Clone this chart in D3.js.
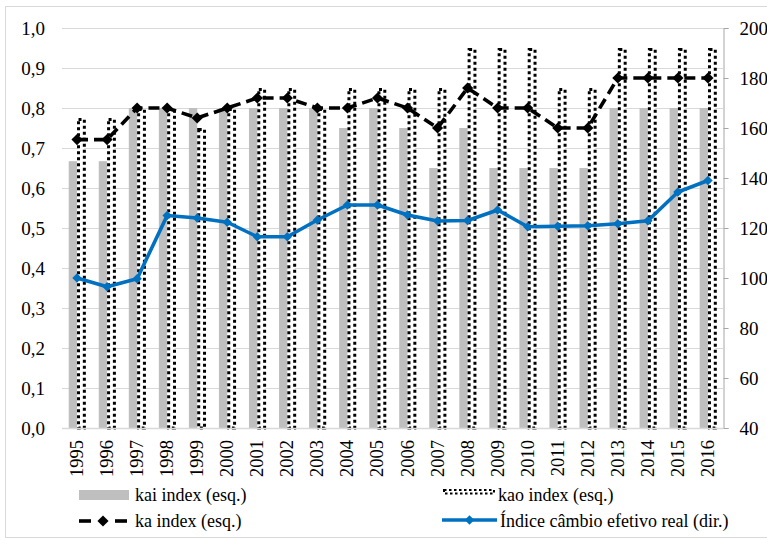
<!DOCTYPE html>
<html>
<head>
<meta charset="utf-8">
<script src="https://cdn.jsdelivr.net/npm/d3@7/dist/d3.min.js"></script>
</head>
<body style="margin:0">
<svg id="chart" width="767" height="540"></svg>
<script>
// Years on the category axis
const years = ["1995","1996","1997","1998","1999","2000","2001","2002","2003","2004","2005",
               "2006","2007","2008","2009","2010","2011","2012","2013","2014","2015","2016"];

// Left-axis series (0–1)
const kaiIndex = [0.667,0.667,0.80,0.80,0.80,0.80,0.80,0.80,0.80,0.75,0.80,
                  0.75,0.65,0.75,0.65,0.65,0.65,0.65,0.80,0.80,0.80,0.80];
const kaoIndex = [0.775,0.775,0.80,0.80,0.75,0.80,0.85,0.85,0.80,0.85,0.85,
                  0.85,0.85,0.95,0.95,0.95,0.85,0.85,0.95,0.95,0.95,0.95];
const kaIndex  = [0.721,0.721,0.80,0.80,0.775,0.80,0.825,0.825,0.80,0.80,0.825,
                  0.80,0.75,0.85,0.80,0.80,0.75,0.75,0.875,0.875,0.875,0.875];

// Right-axis series: real effective exchange rate index
const reer = [100,96.5,99.7,125,124,122.3,116.5,116.5,123.2,129.2,129.2,
              125.2,122.8,123,127.2,120.5,120.7,120.9,121.7,122.9,134.4,139];

// Tick values
const leftTicks  = [0,0.1,0.2,0.3,0.4,0.5,0.6,0.7,0.8,0.9,1.0];
const rightTicks = [40,60,80,100,120,140,160,180,200];

// Legend labels
const legendLabels = ["kai index (esq.)", "kao index (esq.)", "ka index (esq.)", "Índice câmbio efetivo real (dir.)"];

const serif = "Liberation Serif";
const svg = d3.select("#chart");
const plot = { left: 62, right: 723, top: 28, bottom: 428 };

const ptLocale = d3.formatLocale({ decimal: ",", thousands: ".", grouping: [3], currency: ["R$", ""] });
const fmt1 = ptLocale.format(".1f");

const x = d3.scaleBand().domain(years).range([plot.left, plot.right]).padding(0);
const yL = d3.scaleLinear().domain([0, 1]).range([plot.bottom, plot.top]);
const yR = d3.scaleLinear().domain([40, 200]).range([plot.bottom, plot.top]);
const cx = d => x(d) + x.bandwidth() / 2;
const barW = x.bandwidth() * 0.277;

// Outer chart frame
svg.append("rect")
  .attr("x", 5.5).attr("y", 6.5).attr("width", 800).attr("height", 531)
  .attr("fill", "none").attr("stroke", "#d9d9d9").attr("stroke-width", 1);

// Gridlines
svg.append("g").selectAll("line")
  .data(leftTicks.filter(t => t > 0))
  .join("line")
  .attr("x1", plot.left).attr("x2", plot.right)
  .attr("y1", d => Math.round(yL(d)) + 0.5).attr("y2", d => Math.round(yL(d)) + 0.5)
  .attr("stroke", "#d9d9d9").attr("stroke-width", 1.2);

// Left axis labels
const axL = svg.append("g").attr("transform", `translate(${plot.left},0)`)
  .call(d3.axisLeft(yL).tickValues(leftTicks).tickFormat(fmt1).tickSize(0).tickPadding(17));
axL.select(".domain").remove();
axL.selectAll("text").attr("fill", "#000").attr("font-family", serif).attr("font-size", 19);

// Right axis
const axR = svg.append("g").attr("transform", `translate(${plot.right + 0.5},0)`)
  .call(d3.axisRight(yR).tickValues(rightTicks).tickFormat(d3.format("d")).tickSize(5).tickSizeOuter(5).tickPadding(11));
axR.select(".domain").attr("stroke", "#a6a6a6");
axR.selectAll(".tick line").attr("stroke", "#a6a6a6");
axR.selectAll("text").attr("fill", "#000").attr("font-family", serif).attr("font-size", 19);

// kai bars
svg.append("g").selectAll("rect")
  .data(years)
  .join("rect")
  .attr("x", d => cx(d) - barW)
  .attr("width", barW)
  .attr("y", (d, i) => yL(kaiIndex[i]))
  .attr("height", (d, i) => yL(0) - yL(kaiIndex[i]))
  .attr("fill", "#bfbfbf");

// kao bars: white with dotted outline
const sw = 3;
svg.append("g").selectAll("rect")
  .data(years)
  .join("rect")
  .attr("x", d => cx(d) + sw / 2)
  .attr("width", barW - sw + 0.5)
  .attr("y", (d, i) => yL(kaoIndex[i]) + sw / 2)
  .attr("height", (d, i) => yL(0) - yL(kaoIndex[i]) - sw / 2)
  .attr("fill", "#fff")
  .attr("stroke", "#000").attr("stroke-width", sw).attr("stroke-dasharray", "3,3");

// Bottom axis line
svg.append("line")
  .attr("x1", plot.left).attr("x2", plot.right)
  .attr("y1", plot.bottom + 0.5).attr("y2", plot.bottom + 0.5)
  .attr("stroke", "#d9d9d9").attr("stroke-width", 1.5);

// Year labels (rotated)
const axB = svg.append("g").attr("transform", `translate(0,${plot.bottom})`)
  .call(d3.axisBottom(x).tickSize(0).tickPadding(0));
axB.select(".domain").remove();
axB.selectAll("text")
  .attr("fill", "#000").attr("font-family", serif).attr("font-size", 18.5)
  .attr("text-anchor", "end")
  .attr("dy", null)
  .attr("dominant-baseline", "central")
  .attr("transform", "translate(0,12) rotate(-90)")
  .attr("y", 0).attr("x", 0);

const diamond = size => d3.symbol(d3.symbolSquare, size)();

// ka index line
const kaLine = d3.line().x((d, i) => cx(years[i])).y(d => yL(d));
svg.append("path")
  .datum(kaIndex)
  .attr("d", kaLine)
  .attr("fill", "none").attr("stroke", "#000")
  .attr("stroke-width", 3.6).attr("stroke-dasharray", "11,6");
svg.append("g").selectAll("path")
  .data(kaIndex)
  .join("path")
  .attr("d", diamond(62))
  .attr("transform", (d, i) => `translate(${cx(years[i])},${yL(d)}) rotate(45)`)
  .attr("fill", "#000");

// Real effective exchange rate line
const reerLine = d3.line().x((d, i) => cx(years[i])).y(d => yR(d));
svg.append("path")
  .datum(reer)
  .attr("d", reerLine)
  .attr("fill", "none").attr("stroke", "#0070c0")
  .attr("stroke-width", 3.6).attr("stroke-linejoin", "round");
svg.append("g").selectAll("path")
  .data(reer)
  .join("path")
  .attr("d", diamond(44))
  .attr("transform", (d, i) => `translate(${cx(years[i])},${yR(d)}) rotate(45)`)
  .attr("fill", "#0070c0");

// Legend
const lg = svg.append("g");
const legendText = (xPos, yPos, label) =>
  lg.append("text").attr("x", xPos).attr("y", yPos)
    .attr("font-family", serif).attr("font-size", 18).attr("fill", "#000").text(label);
// kai
lg.append("rect").attr("x", 79).attr("y", 490).attr("width", 50).attr("height", 10).attr("fill", "#bfbfbf");
legendText(135, 501, legendLabels[0]);
// kao
lg.append("rect").attr("x", 444).attr("y", 490).attr("width", 50).attr("height", 3.5)
  .attr("fill", "#fff").attr("stroke", "#000").attr("stroke-width", 2).attr("stroke-dasharray", "2.5,2.5");
legendText(498, 501, legendLabels[1]);
// ka
lg.append("line").attr("x1", 79).attr("x2", 91).attr("y1", 521).attr("y2", 521).attr("stroke", "#000").attr("stroke-width", 3.6);
lg.append("line").attr("x1", 115).attr("x2", 127).attr("y1", 521).attr("y2", 521).attr("stroke", "#000").attr("stroke-width", 3.6);
lg.append("path").attr("d", diamond(62)).attr("transform", "translate(103,521) rotate(45)").attr("fill", "#000");
legendText(135, 527, legendLabels[2]);
// reer
lg.append("line").attr("x1", 442).attr("x2", 497).attr("y1", 520).attr("y2", 520).attr("stroke", "#0070c0").attr("stroke-width", 3.6);
lg.append("path").attr("d", diamond(44)).attr("transform", "translate(469.5,520) rotate(45)").attr("fill", "#0070c0");
legendText(500, 527, legendLabels[3]);
</script>
</body>
</html>
